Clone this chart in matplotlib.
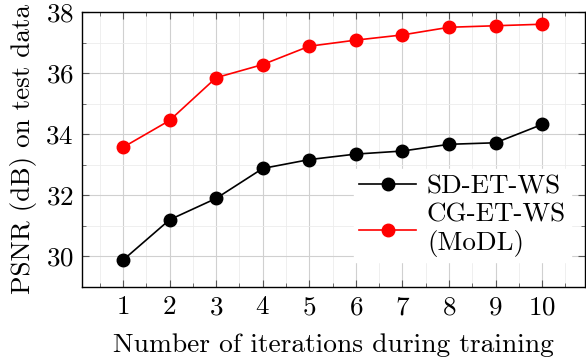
import matplotlib
matplotlib.use("Agg")
import matplotlib.pyplot as plt
from matplotlib.ticker import MultipleLocator

iterations = [1, 2, 3, 4, 5, 6, 7, 8, 9, 10]
sd_et_ws = [29.88, 31.2, 31.9, 32.88, 33.17, 33.35, 33.45, 33.67, 33.72, 34.32]
cg_et_ws = [33.57, 34.45, 35.85, 36.28, 36.88, 37.08, 37.25, 37.5, 37.55, 37.6]
yticks = [30, 32, 34, 36, 38]

plt.rcParams['font.family'] = 'serif'
plt.rcParams['font.serif'] = ['cmr10', 'DejaVu Serif']
plt.rcParams['axes.formatter.use_mathtext'] = True
plt.rcParams['mathtext.fontset'] = 'cm'

fig = plt.figure(figsize=(5.86, 3.58), dpi=100)
ax = fig.add_axes([82/586, 1-287/358, (585-82)/586, (287-12)/358])

ax.plot(iterations, sd_et_ws, color='black', marker='o', markersize=9, lw=1.2, label='SD-ET-WS', zorder=3)
ax.plot(iterations, cg_et_ws, color='red', marker='o', markersize=9, lw=1.2, label='CG-ET-WS\n(MoDL)', zorder=3)

ax.set_xlim(0.12, 10.92)
ax.set_ylim(29, 38)
ax.set_xticks(iterations)
ax.set_yticks(yticks)
ax.xaxis.set_minor_locator(MultipleLocator(0.5))
ax.yaxis.set_minor_locator(MultipleLocator(1))
ax.grid(which='major', color='#d0d0d0', lw=0.8)
ax.grid(which='minor', color='#ececec', lw=0.6)
ax.set_axisbelow(True)
ax.tick_params(which='both', direction='in', top=True, right=True, labelsize=19.5, color='#555555')
ax.tick_params(which='major', length=5, pad=6)
ax.tick_params(which='minor', length=3)
for s in ax.spines.values():
    s.set_linewidth(1.0)

ax.set_xlabel('Number of iterations during training', fontsize=19.8, labelpad=10)
ax.set_ylabel('PSNR (dB) on test data', fontsize=19.5, labelpad=6)

leg = ax.legend(loc='lower right', bbox_to_anchor=(1.0, 0.04), fontsize=19.5, frameon=True,
                fancybox=False, edgecolor='white', framealpha=1.0, handlelength=2.1,
                handletextpad=0.4, borderpad=0.2, labelspacing=0.15)

fig.savefig('out.png', dpi=100)
